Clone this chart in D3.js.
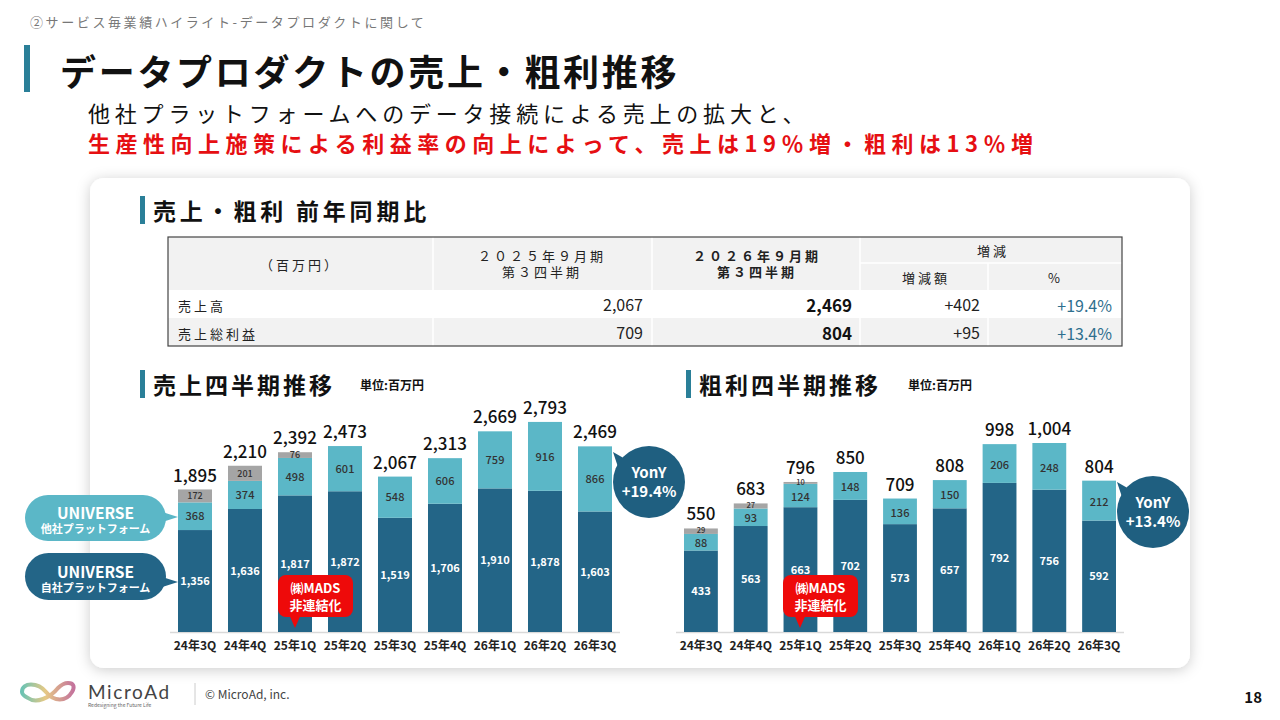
<!DOCTYPE html>
<html>
<head>
<meta charset="utf-8">
<script src="https://cdn.jsdelivr.net/npm/d3@7"></script>
<style>
  body { margin: 0; background: #fff; }
  svg { display: block; font-family: "Noto Sans CJK JP", "Noto Sans", sans-serif; }
</style>
</head>
<body>
<svg width="1280" height="720"></svg>
<script>
const quarters = ["24年3Q", "24年4Q", "25年1Q", "25年2Q", "25年3Q", "25年4Q", "26年1Q", "26年2Q", "26年3Q"];

// sales (百万円)
const salesOwn   = [1356, 1636, 1817, 1872, 1519, 1706, 1910, 1878, 1603];
const salesOther = [368, 374, 498, 601, 548, 606, 759, 916, 866];
const salesMads  = [172, 201, 76, 0, 0, 0, 0, 0, 0];
const salesTotal = [1895, 2210, 2392, 2473, 2067, 2313, 2669, 2793, 2469];

// gross profit (百万円)
const gpOwn   = [433, 563, 663, 702, 573, 657, 792, 756, 592];
const gpOther = [88, 93, 124, 148, 136, 150, 206, 248, 212];
const gpMads  = [29, 27, 10, 0, 0, 0, 0, 0, 0];
const gpTotal = [550, 683, 796, 850, 709, 808, 998, 1004, 804];

// YoY table
const tableRows   = ["売上高", "売上総利益"];
const prevValues  = ["2,067", "709"];
const currValues  = ["2,469", "804"];
const diffValues  = ["+402", "+95"];
const pctValues   = ["+19.4%", "+13.4%"];

const C_DARK = "#236587", C_LIGHT = "#5bb7c7", C_GRAY = "#a5a5a5", C_BAR = "#2a7f98";

const svg = d3.select("svg");
const defs = svg.append("defs");
const shadow = defs.append("filter").attr("id", "shadow").attr("x", "-5%").attr("y", "-5%").attr("width", "110%").attr("height", "115%");
shadow.append("feDropShadow").attr("dx", 0).attr("dy", 2).attr("stdDeviation", 7).attr("flood-color", "#000").attr("flood-opacity", 0.2);

// header
svg.append("text").attr("x", 30).attr("y", 27).attr("font-size", 13).attr("fill", "#777")
  .attr("letter-spacing", 2.6).text("②サービス毎業績ハイライト-データプロダクトに関して");
svg.append("rect").attr("x", 24).attr("y", 45).attr("width", 6).attr("height", 47).attr("fill", C_BAR);
svg.append("text").attr("x", 60).attr("y", 86).attr("font-size", 36).attr("font-weight", 700)
  .attr("letter-spacing", 2.7).attr("fill", "#111").text("データプロダクトの売上・粗利推移");
svg.append("text").attr("x", 88).attr("y", 122).attr("font-size", 22).attr("fill", "#111")
  .attr("letter-spacing", 4.8).text("他社プラットフォームへのデータ接続による売上の拡大と、");
svg.append("text").attr("x", 88).attr("y", 152).attr("font-size", 22).attr("font-weight", 700).attr("fill", "#e60f12")
  .attr("letter-spacing", 5.5).text("生産性向上施策による利益率の向上によって、売上は19％増・粗利は13％増");

// card
svg.append("rect").attr("x", 90).attr("y", 178).attr("width", 1100).attr("height", 490).attr("rx", 14)
  .attr("fill", "#fff").attr("filter", "url(#shadow)");

function sectionTitle(x, y, label, unit, ls) {
  svg.append("rect").attr("x", x).attr("y", y - 24).attr("width", 5).attr("height", 28).attr("fill", C_BAR);
  svg.append("text").attr("x", x + 13).attr("y", y).attr("font-size", 23).attr("font-weight", 700)
    .attr("letter-spacing", ls || 3).attr("fill", "#111").text(label);
  if (unit) {
    svg.append("text").attr("x", unit.x).attr("y", y - 4).attr("font-size", 12).attr("font-weight", 700)
      .attr("fill", "#111").text(unit.t);
  }
}
sectionTitle(140, 220, "売上・粗利 前年同期比", null, 3.8);
sectionTitle(140, 394, "売上四半期推移", {x: 360, t: "単位:百万円"});
sectionTitle(686, 394, "粗利四半期推移", {x: 908, t: "単位:百万円"});

// table
const tbl = svg.append("g");
tbl.append("rect").attr("x", 168).attr("y", 237).attr("width", 954).attr("height", 53).attr("fill", "#f2f2f2");
tbl.append("rect").attr("x", 168).attr("y", 318).attr("width", 954).attr("height", 28).attr("fill", "#f2f2f2");
[433, 652, 860].forEach(x => tbl.append("line").attr("x1", x).attr("x2", x).attr("y1", 237).attr("y2", 346)
  .attr("stroke", "#fff").attr("stroke-width", 1.5));
tbl.append("line").attr("x1", 988).attr("x2", 988).attr("y1", 263).attr("y2", 346).attr("stroke", "#fff").attr("stroke-width", 1.5);
tbl.append("line").attr("x1", 860).attr("x2", 1122).attr("y1", 263).attr("y2", 263).attr("stroke", "#fff").attr("stroke-width", 1.5);
tbl.append("rect").attr("x", 168).attr("y", 237).attr("width", 954).attr("height", 109)
  .attr("fill", "none").attr("stroke", "#444").attr("stroke-width", 1.2);

const hdr = (x, y, t, w, anchor) => tbl.append("text").attr("x", x).attr("y", y).attr("font-size", 13)
  .attr("font-weight", w || 400).attr("text-anchor", anchor || "middle").attr("letter-spacing", 3).attr("fill", "#222").text(t);
hdr(300, 270, "（百万円）");
hdr(542, 261, "２０２５年９月期");
hdr(542, 277, "第３四半期");
hdr(757, 261, "２０２６年９月期", 700);
hdr(757, 277, "第３四半期", 700);
hdr(993, 256, "増減");
hdr(926, 283, "増減額");
hdr(1048, 283, "%", 400, "start");

tableRows.forEach((r, i) => {
  const y = 311 + i * 28;
  tbl.append("text").attr("x", 178).attr("y", y).attr("font-size", 13).attr("letter-spacing", 3).attr("fill", "#222").text(r);
  tbl.append("text").attr("x", 643).attr("y", y).attr("font-size", 16).attr("text-anchor", "end").attr("fill", "#222").text(prevValues[i]);
  tbl.append("text").attr("x", 852).attr("y", y + 1).attr("font-size", 17).attr("font-weight", 700).attr("text-anchor", "end").attr("fill", "#111").text(currValues[i]);
  tbl.append("text").attr("x", 980).attr("y", y).attr("font-size", 16).attr("text-anchor", "end").attr("fill", "#222").text(diffValues[i]);
  tbl.append("text").attr("x", 1112).attr("y", y + 1).attr("font-size", 16).attr("text-anchor", "end").attr("fill", "#2e6f8e").text(pctValues[i]);
});

// bar charts
function barChart(opt) {
  const rows = quarters.map((q, i) => ({q, own: opt.own[i], other: opt.other[i], mads: opt.mads[i], total: opt.total[i]}));
  const keys = ["own", "other", "mads"];
  const colors = {own: C_DARK, other: C_LIGHT, mads: C_GRAY};
  const series = d3.stack().keys(keys)(rows);

  const x = d3.scaleBand().domain(quarters).range(opt.xRange).paddingInner(0.32).paddingOuter(0);
  const y = d3.scaleLinear().domain([0, d3.max(opt.total)]).range([632, opt.yTop]);
  const g = svg.append("g");

  g.append("line").attr("x1", opt.xRange[0] - 8).attr("x2", opt.xRange[1] + 8).attr("y1", 632.5).attr("y2", 632.5)
    .attr("stroke", "#d9d9d9").attr("stroke-width", 1.5);

  series.forEach(s => {
    g.append("g").selectAll("rect").data(s.filter(d => d[1] > d[0])).join("rect")
      .attr("x", d => x(d.data.q)).attr("width", x.bandwidth())
      .attr("y", d => y(d[1])).attr("height", d => y(d[0]) - y(d[1]))
      .attr("fill", colors[s.key]);
  });

  // segment labels
  series.forEach(s => {
    const fs = s.key === "mads" ? opt.madsFont : 11;
    const dy = s.key === "mads" ? opt.madsDy : fs * 0.38 + (s.key === "other" ? opt.otherDy : 0);
    g.append("g").selectAll("text").data(s.filter(d => d[1] > d[0])).join("text")
      .attr("x", d => x(d.data.q) + x.bandwidth() / 2)
      .attr("y", d => (y(d[0]) + y(d[1])) / 2 + dy)
      .attr("text-anchor", "middle").attr("font-size", fs)
      .attr("font-weight", s.key === "own" ? 700 : 500)
      .attr("fill", s.key === "own" ? "#fff" : "#333")
      .text(d => d3.format(",")(d.data[s.key]));
  });

  g.selectAll(".tot").data(rows).join("text").attr("class", "tot")
    .attr("x", d => x(d.q) + x.bandwidth() / 2).attr("y", d => y(d.total) - 8)
    .attr("text-anchor", "middle").attr("font-size", 17).attr("font-weight", 500).attr("fill", "#111")
    .text(d => d3.format(",")(d.total));

  const ax = g.append("g").attr("transform", "translate(0,632)")
    .call(d3.axisBottom(x).tickSize(0).tickPadding(9));
  ax.select(".domain").remove();
  ax.selectAll("text").attr("font-size", 12).attr("font-weight", 700).attr("fill", "#222")
    .attr("font-family", "'Noto Sans CJK JP', sans-serif");
  return {x, y};
}

barChart({own: salesOwn, other: salesOther, mads: salesMads, total: salesTotal,
  xRange: [178, 612], yTop: 422, madsFont: 9, madsDy: 3.4, otherDy: 0});
barChart({own: gpOwn, other: gpOther, mads: gpMads, total: gpTotal,
  xRange: [684, 1116], yTop: 443, madsFont: 7.5, madsDy: 1.8, otherDy: 1});

// legend bubbles
function bubble(x0, x1, yTop, yBot, tipX, tipY, fill, l1, l2) {
  const g = svg.append("g");
  const cy = (yTop + yBot) / 2;
  g.append("path").attr("d", `M${x1 - 10},${tipY - 7} L${tipX},${tipY} L${x1 - 10},${tipY + 7} Z`).attr("fill", fill);
  g.append("rect").attr("x", x0).attr("y", yTop).attr("width", x1 - x0).attr("height", yBot - yTop)
    .attr("rx", (yBot - yTop) / 2).attr("fill", fill);
  g.append("text").attr("x", (x0 + x1) / 2).attr("y", cy + 1).attr("text-anchor", "middle")
    .attr("font-size", 15.5).attr("font-weight", 700).attr("fill", "#fff").text(l1);
  g.append("text").attr("x", (x0 + x1) / 2).attr("y", cy + 15).attr("text-anchor", "middle")
    .attr("font-size", 11).attr("font-weight", 700).attr("fill", "#fff").text(l2);
}
bubble(25, 166, 495, 541, 178, 517, C_LIGHT, "UNIVERSE", "他社プラットフォーム");
bubble(25, 166, 553, 600, 178, 582, C_DARK, "UNIVERSE", "自社プラットフォーム");

// MADS callouts
function mads(x0, tipX) {
  const g = svg.append("g");
  g.append("path").attr("d", `M${tipX - 7},612 L${tipX},628 L${tipX + 7},612 Z`).attr("fill", "#ee0a0a");
  g.append("rect").attr("x", x0).attr("y", 575).attr("width", 75).attr("height", 42).attr("rx", 8).attr("fill", "#ee0a0a");
  g.append("text").attr("x", x0 + 37.5).attr("y", 593).attr("text-anchor", "middle").attr("font-size", 13)
    .attr("font-weight", 700).attr("fill", "#fff").text("㈱MADS");
  g.append("text").attr("x", x0 + 37.5).attr("y", 610).attr("text-anchor", "middle").attr("font-size", 13)
    .attr("font-weight", 700).attr("fill", "#fff").text("非連結化");
}
mads(278, 295);
mads(783, 800);

// YonY circles
function yony(cx, cy, t) {
  const g = svg.append("g");
  g.append("path").attr("d", `M${cx - 36},${cy - 30} L${cx - 22},${cy - 22} L${cx - 30},${cy - 12} Z`).attr("fill", "#1f5f80");
  g.append("circle").attr("cx", cx).attr("cy", cy).attr("r", 36).attr("fill", "#1f5f80");
  g.append("text").attr("x", cx).attr("y", cy - 4).attr("text-anchor", "middle").attr("font-size", 15)
    .attr("font-weight", 700).attr("fill", "#fff").text("YonY");
  g.append("text").attr("x", cx).attr("y", cy + 15).attr("text-anchor", "middle").attr("font-size", 15)
    .attr("font-weight", 700).attr("fill", "#fff").text(t);
}
yony(649, 482, "+19.4%");
yony(1153, 512, "+13.4%");

// footer
const grad = defs.append("linearGradient").attr("id", "logo");
grad.append("stop").attr("offset", "0%").attr("stop-color", "#6cc3b3");
grad.append("stop").attr("offset", "45%").attr("stop-color", "#e6c985");
grad.append("stop").attr("offset", "100%").attr("stop-color", "#c4739c");
svg.append("path")
  .attr("d", "M22,692 C22,682 38,682 46,692 C54,702 66,702 72,692 C78,682 66,680 58,688 C50,698 36,704 28,698 C24,696 22,694 22,692 Z")
  .attr("fill", "none").attr("stroke", "url(#logo)").attr("stroke-width", 4);
svg.append("text").attr("x", 88).attr("y", 699).attr("font-size", 19).attr("letter-spacing", 1.6)
  .attr("fill", "#444").attr("font-family", "Lato, sans-serif").text("MicroAd");
svg.append("text").attr("x", 88).attr("y", 707).attr("font-size", 5).attr("fill", "#666").text("Redesigning the Future Life");
svg.append("line").attr("x1", 195).attr("x2", 195).attr("y1", 683).attr("y2", 705).attr("stroke", "#ccc");
svg.append("text").attr("x", 205).attr("y", 699).attr("font-size", 12).attr("fill", "#444").text("© MicroAd, inc.");
svg.append("text").attr("x", 1262).attr("y", 703).attr("text-anchor", "end").attr("font-size", 15)
  .attr("font-weight", 700).attr("fill", "#111").text("18");
</script>
</body>
</html>
